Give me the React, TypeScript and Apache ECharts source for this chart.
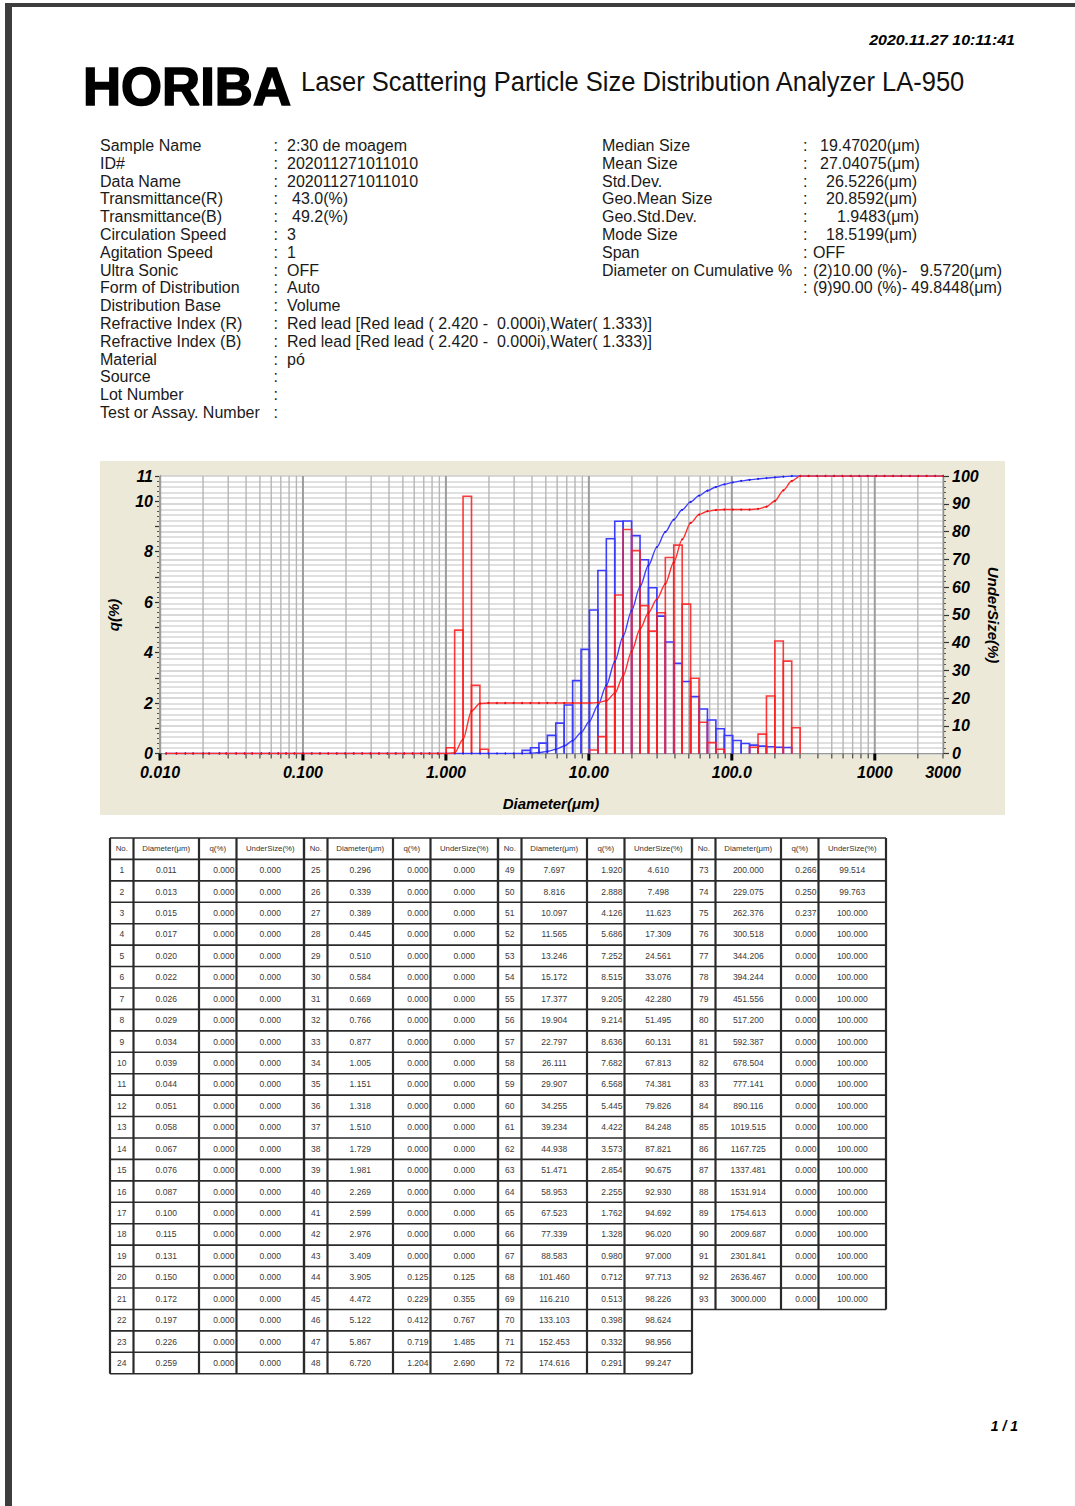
import React, { useEffect, useRef } from "react";
import * as echarts from "echarts";

const PAGE_W = 1075;
const PAGE_H = 1506;
const FONT = '"Liberation Sans", Arial, Helvetica, sans-serif';

// Channel upper diameters (μm), 93 channels
const diameters = [
  0.011, 0.013, 0.015, 0.017, 0.02, 0.022, 0.026, 0.029, 0.034, 0.039, 0.044, 0.051,
  0.058, 0.067, 0.076, 0.087, 0.1, 0.115, 0.131, 0.15, 0.172, 0.197, 0.226, 0.259,
  0.296, 0.339, 0.389, 0.445, 0.51, 0.584, 0.669, 0.766, 0.877, 1.005, 1.151, 1.318,
  1.51, 1.729, 1.981, 2.269, 2.599, 2.976, 3.409, 3.905, 4.472, 5.122, 5.867, 6.72,
  7.697, 8.816, 10.097, 11.565, 13.246, 15.172, 17.377, 19.904, 22.797, 26.111, 29.907, 34.255,
  39.234, 44.938, 51.471, 58.953, 67.523, 77.339, 88.583, 101.46, 116.21, 133.103, 152.453, 174.616,
  200.0, 229.075, 262.376, 300.518, 344.206, 394.244, 451.556, 517.2, 592.387, 678.504, 777.141, 890.116,
  1019.515, 1167.725, 1337.481, 1531.914, 1754.613, 2009.687, 2301.841, 2636.467, 3000.0,
];

// Current measurement: frequency q(%) per channel
const blueQ = [
  0, 0, 0, 0, 0, 0, 0, 0, 0, 0, 0, 0,
  0, 0, 0, 0, 0, 0, 0, 0, 0, 0, 0, 0,
  0, 0, 0, 0, 0, 0, 0, 0, 0, 0, 0, 0,
  0, 0, 0, 0, 0, 0, 0, 0.125, 0.229, 0.412, 0.719, 1.204,
  1.92, 2.888, 4.126, 5.686, 7.252, 8.515, 9.205, 9.214, 8.636, 7.682, 6.568, 5.445,
  4.422, 3.573, 2.854, 2.255, 1.762, 1.328, 0.98, 0.712, 0.513, 0.398, 0.332, 0.291,
  0.266, 0.25, 0.237, 0, 0, 0, 0, 0, 0, 0, 0, 0,
  0, 0, 0, 0, 0, 0, 0, 0, 0,
];

// Current measurement: cumulative undersize (%)
const blueUnder = [
  0, 0, 0, 0, 0, 0, 0, 0, 0, 0, 0, 0,
  0, 0, 0, 0, 0, 0, 0, 0, 0, 0, 0, 0,
  0, 0, 0, 0, 0, 0, 0, 0, 0, 0, 0, 0,
  0, 0, 0, 0, 0, 0, 0, 0.125, 0.355, 0.767, 1.485, 2.69,
  4.61, 7.498, 11.623, 17.309, 24.561, 33.076, 42.28, 51.495, 60.131, 67.813, 74.381, 79.826,
  84.248, 87.821, 90.675, 92.93, 94.692, 96.02, 97.0, 97.713, 98.226, 98.624, 98.956, 99.247,
  99.514, 99.763, 100, 100, 100, 100, 100, 100, 100, 100, 100, 100,
  100, 100, 100, 100, 100, 100, 100, 100, 100,
];

// Overlaid measurement: frequency q(%) per channel
const redQ = [
  0, 0, 0, 0, 0, 0, 0, 0, 0, 0, 0, 0,
  0, 0, 0, 0, 0, 0, 0, 0, 0, 0, 0, 0,
  0, 0, 0, 0, 0, 0, 0, 0, 0, 0, 0.23, 4.89,
  10.2, 2.7, 0.17, 0, 0, 0, 0, 0, 0, 0, 0, 0,
  0, 0, 0, 0.14, 0.67, 2.65, 6.28, 8.88, 8.04, 5.86, 4.85, 5.58,
  7.77, 8.26, 5.92, 2.98, 1.24, 0.43, 0.17, 0, 0, 0, 0.25, 0.77,
  2.28, 4.46, 3.66, 1.02, 0, 0, 0, 0, 0, 0, 0, 0,
  0, 0, 0, 0, 0, 0, 0, 0, 0,
];

// Overlaid measurement: cumulative undersize (%)
const redUnder = [
  0, 0, 0, 0, 0, 0, 0, 0, 0, 0, 0, 0,
  0, 0, 0, 0, 0, 0, 0, 0, 0, 0, 0, 0,
  0, 0, 0, 0, 0, 0, 0, 0, 0, 0, 0.23, 5.12,
  15.32, 18.02, 18.19, 18.19, 18.19, 18.19, 18.19, 18.19, 18.19, 18.19, 18.19, 18.19,
  18.19, 18.19, 18.19, 18.33, 19.0, 21.65, 27.93, 36.81, 44.85, 50.71, 55.56, 61.14,
  68.91, 77.17, 83.09, 86.07, 87.31, 87.74, 87.91, 87.91, 87.91, 87.91, 88.16, 88.93,
  91.0, 94.8, 98.2, 100, 100, 100, 100, 100, 100, 100, 100, 100,
  100, 100, 100, 100, 100, 100, 100, 100, 100,
];

const xTickValues = [0.01, 0.1, 1, 10, 100, 1000, 3000];
const xTickLabels = ["0.010", "0.100", "1.000", "10.00", "100.0", "1000", "3000"];

const sampleLabels = [
  "Sample Name", "ID#", "Data Name", "Transmittance(R)", "Transmittance(B)", "Circulation Speed",
  "Agitation Speed", "Ultra Sonic", "Form of Distribution", "Distribution Base",
  "Refractive Index (R)", "Refractive Index (B)", "Material", "Source", "Lot Number",
  "Test or Assay. Number",
];
const sampleValues = [
  "2:30 de moagem", "202011271011010", "202011271011010", "43.0(%)", "49.2(%)", "3", "1", "OFF",
  "Auto", "Volume", "Red lead [Red lead ( 2.420 -  0.000i),Water( 1.333)]",
  "Red lead [Red lead ( 2.420 -  0.000i),Water( 1.333)]", "pó", "", "", "",
];
const statLabels = [
  "Median Size", "Mean Size", "Std.Dev.", "Geo.Mean Size", "Geo.Std.Dev.", "Mode Size", "Span",
  "Diameter on Cumulative %", "",
];
const statValues = [
  "19.47020(μm)", "27.04075(μm)", "26.5226(μm)", "20.8592(μm)", "1.9483(μm)", "18.5199(μm)", "OFF",
  "(2)10.00 (%)-", "(9)90.00 (%)-",
];
const cumulativeDiameterValues = ["", "", "", "", "", "", "", "9.5720(μm)", "49.8448(μm)"];

const tableHeaders = ["No.", "Diameter(μm)", "q(%)", "UnderSize(%)"];

const measureCtx = (() => {
  const c = document.createElement("canvas");
  return c.getContext("2d");
})();
function textWidth(text: string, font: string) {
  if (!measureCtx) return 0;
  measureCtx.font = font;
  return measureCtx.measureText(text).width;
}

function txt(x: number, y: number, text: string, opts: any = {}) {
  const align = opts.align || "left";
  const vAlign = opts.verticalAlign || "middle";
  const style: any = {
    text,
    fill: opts.fill || "#1a1a1a",
    fontSize: opts.fontSize || 16,
    fontWeight: opts.fontWeight || "normal",
    fontStyle: opts.fontStyle || "normal",
    fontFamily: opts.fontFamily || FONT,
    align,
    textAlign: align,
    verticalAlign: vAlign,
    textVerticalAlign: vAlign,
  };
  if (opts.stroke) {
    style.stroke = opts.stroke;
    style.lineWidth = opts.lineWidth || 1;
  }
  return {
    type: "text",
    x,
    y,
    z: opts.z ?? 10,
    rotation: opts.rotation || 0,
    scaleX: opts.scaleX || 1,
    silent: true,
    style,
  };
}

function buildGraphic() {
  const els: any[] = [];

  // page frame
  els.push({ type: "rect", z: 20, silent: true, shape: { x: 5, y: 3, width: 1070, height: 4 }, style: { fill: "#3d3d3d" } });
  els.push({ type: "rect", z: 20, silent: true, shape: { x: 5, y: 3, width: 7, height: PAGE_H - 3 }, style: { fill: "#3d3d3d" } });

  // header
  const dateFont = `italic bold 15px ${FONT}`;
  const dateText = "2020.11.27 10:11:41";
  const dw = textWidth(dateText, dateFont) || 139;
  els.push(txt(1015, 40, dateText, { align: "right", fontSize: 15, fontWeight: "bold", fontStyle: "italic", fill: "#000", scaleX: 146 / dw }));

  const logoFont = `bold 53px ${FONT}`;
  const lw = textWidth("HORIBA", logoFont) || 209;
  els.push(txt(83, 86, "HORIBA", { fontSize: 53, fontWeight: "bold", fill: "#000", stroke: "#000", lineWidth: 1.6, scaleX: 208 / lw }));

  const titleText = "Laser Scattering Particle Size Distribution Analyzer LA-950";
  const titleFont = `27px ${FONT}`;
  const tw = textWidth(titleText, titleFont) || 780;
  els.push(txt(301, 82, titleText, { fontSize: 27, fill: "#111", scaleX: 665 / tw }));

  // sample information block
  sampleLabels.forEach((lab, i) => {
    const y = 145.5 + i * 17.8;
    els.push(txt(100, y, lab));
    els.push(txt(273.5, y, ":"));
    if (sampleValues[i]) els.push(txt(i === 3 || i === 4 ? 292 : 287, y, sampleValues[i]));
  });

  // statistics block
  const statValueX = [820, 820, 826, 826, 837, 826, 813, 813, 813];
  const cumX = [0, 0, 0, 0, 0, 0, 0, 920, 911];
  statLabels.forEach((lab, i) => {
    const y = 145.5 + i * 17.8;
    if (lab) els.push(txt(602, y, lab));
    els.push(txt(803, y, ":"));
    els.push(txt(statValueX[i], y, statValues[i]));
    if (cumulativeDiameterValues[i]) els.push(txt(cumX[i], y, cumulativeDiameterValues[i]));
  });

  // chart panel
  els.push({ type: "rect", z: -10, silent: true, shape: { x: 100, y: 461, width: 905, height: 354 }, style: { fill: "#ECE9D8" } });
  els.push(txt(113, 615, "q(%)", { align: "center", fontSize: 15, fontWeight: "bold", fontStyle: "italic", fill: "#000", rotation: Math.PI / 2 }));
  els.push(txt(993, 615, "UnderSize(%)", { align: "center", fontSize: 15, fontWeight: "bold", fontStyle: "italic", fill: "#000", rotation: -Math.PI / 2 }));
  els.push(txt(551, 803, "Diameter(μm)", { align: "center", fontSize: 15, fontWeight: "bold", fontStyle: "italic", fill: "#000" }));

  // data table
  const groupX = [110, 304, 498, 692];
  const colOff = [0, 23.5, 89, 126.5, 194];
  const tableTop = 838;
  const headH = 21.4;
  const rowH = 21.43;
  const rowsPerGroup = [24, 24, 24, 21];
  let ch = 0;
  groupX.forEach((gx, g) => {
    const nRows = rowsPerGroup[g];
    const bottom = tableTop + headH + nRows * rowH;
    for (let r = 0; r <= nRows + 1; r++) {
      const y = r === 0 ? tableTop : tableTop + headH + (r - 1) * rowH;
      els.push({ type: "line", z: 5, silent: true, shape: { x1: gx, y1: y, x2: gx + colOff[4], y2: y }, style: { stroke: "#2a2a2a", lineWidth: 1.6 } });
    }
    colOff.forEach((o) => {
      els.push({ type: "line", z: 5, silent: true, shape: { x1: gx + o, y1: tableTop, x2: gx + o, y2: bottom }, style: { stroke: "#2a2a2a", lineWidth: 2.2 } });
    });
    tableHeaders.forEach((h, c) => {
      els.push(txt(gx + (colOff[c] + colOff[c + 1]) / 2, tableTop + headH / 2, h, { align: "center", fontSize: 7.8, fill: "#333" }));
    });
    for (let r = 0; r < nRows; r++, ch++) {
      const yc = tableTop + headH + r * rowH + rowH / 2;
      const o = { fontSize: 8.5, fill: "#3a3a3a" };
      els.push(txt(gx + (colOff[0] + colOff[1]) / 2, yc, String(ch + 1), { ...o, align: "center" }));
      els.push(txt(gx + (colOff[1] + colOff[2]) / 2, yc, diameters[ch].toFixed(3), { ...o, align: "center" }));
      els.push(txt(gx + colOff[3] - 2, yc, blueQ[ch].toFixed(3), { ...o, align: "right" }));
      els.push(txt(gx + (colOff[3] + colOff[4]) / 2, yc, blueUnder[ch].toFixed(3), { ...o, align: "center" }));
    }
  });

  els.push(txt(1018, 1426, "1 / 1", { align: "right", fontSize: 14, fontWeight: "bold", fontStyle: "italic", fill: "#000" }));
  return els;
}

// vertical grid positions: 1..9 x each decade of the log axis
function decadeGridValues() {
  const vals: number[] = [];
  [0.01, 0.1, 1, 10, 100, 1000].forEach((base) => {
    for (let m = 1; m <= 9; m++) {
      const v = Math.round(base * m * 1e6) / 1e6;
      if (v <= 3000) vals.push(v);
    }
  });
  return vals;
}

function histogramSeries(q: number[], color: string, opacity: number, z: number) {
  const data: number[][] = [];
  q.forEach((v, i) => {
    if (i > 0 && v > 0) data.push([diameters[i - 1], diameters[i], v]);
  });
  return {
    type: "custom",
    xAxisIndex: 0,
    yAxisIndex: 0,
    z,
    silent: true,
    clip: false,
    encode: { x: [0, 1], y: 2 },
    data,
    renderItem: (_p: any, api: any) => {
      const p0 = api.coord([api.value(0), 0]);
      const p1 = api.coord([api.value(1), api.value(2)]);
      return {
        type: "polyline",
        shape: { points: [[p0[0], p0[1]], [p0[0], p1[1]], [p1[0], p1[1]], [p1[0], p0[1]]] },
        style: { stroke: color, fill: "none", lineWidth: 1.6, opacity },
      };
    },
  };
}

function buildOption() {
  const axisFont = { color: "#000", fontSize: 16, fontWeight: "bold", fontStyle: "italic", fontFamily: FONT };
  return {
    animation: false,
    backgroundColor: "#ffffff",
    grid: { left: 160, top: 476, width: 783, height: 277.5, show: true, backgroundColor: "#ffffff", borderWidth: 0 },
    xAxis: {
      type: "log",
      logBase: 10,
      min: 0.01,
      max: 3000,
      axisLine: { show: true, lineStyle: { color: "#9a9a9a", width: 1 } },
      axisTick: { show: false },
      axisLabel: { show: false },
      splitLine: { show: false },
    },
    yAxis: [
      {
        type: "value",
        min: 0,
        max: 11,
        interval: 1,
        position: "left",
        axisLine: { show: true, lineStyle: { color: "#333", width: 1.2 } },
        axisTick: { show: true, length: 5, lineStyle: { color: "#333", width: 1.2 } },
        minorTick: { show: true, splitNumber: 5, length: 3, lineStyle: { color: "#555" } },
        axisLabel: { ...axisFont, margin: 7, formatter: (v: number) => (v % 2 === 0 || v === 11 ? String(v) : "") },
        splitLine: { show: false },
      },
      {
        type: "value",
        min: 0,
        max: 100,
        interval: 10,
        position: "right",
        axisLine: { show: true, lineStyle: { color: "#333", width: 1.2 } },
        axisTick: { show: true, length: 6, lineStyle: { color: "#333", width: 1.2 } },
        minorTick: { show: true, splitNumber: 5, length: 3, lineStyle: { color: "#555" } },
        axisLabel: { ...axisFont, margin: 9 },
        splitLine: { show: true, lineStyle: { color: "#cccccc", width: 1.6 } },
        minorSplitLine: { show: true, lineStyle: { color: "#d6d6d6", width: 1.6 } },
      },
    ],
    graphic: { elements: buildGraphic() },
    series: [
      {
        type: "custom",
        xAxisIndex: 0,
        yAxisIndex: 0,
        z: 1,
        silent: true,
        clip: false,
        encode: { x: 0, y: 1 },
        data: decadeGridValues().map((v) => [v, 0]),
        renderItem: (_p: any, api: any) => {
          const v = api.value(0);
          const top = api.coord([v, 11]);
          const bot = api.coord([v, 0]);
          const lg = Math.log10(v);
          const decade = Math.abs(lg - Math.round(lg)) < 1e-6;
          return {
            type: "group",
            children: [
              { type: "line", shape: { x1: bot[0], y1: top[1], x2: bot[0], y2: bot[1] }, style: { stroke: decade ? "#9c9c9c" : "#b6b6b6", lineWidth: decade ? 2 : 1.4 } },
              { type: "line", shape: { x1: bot[0], y1: bot[1], x2: bot[0], y2: bot[1] + (decade ? 7 : 5) }, style: { stroke: decade ? "#000" : "#555", lineWidth: decade ? 3 : 1.3 } },
            ],
          };
        },
      },
      {
        type: "custom",
        xAxisIndex: 0,
        yAxisIndex: 0,
        z: 1,
        silent: true,
        clip: false,
        encode: { x: 0, y: 1 },
        data: xTickValues.map((v) => [v, 0]),
        renderItem: (p: any, api: any) => {
          const pt = api.coord([api.value(0), 0]);
          return {
            type: "text",
            x: pt[0],
            y: pt[1] + 19,
            style: {
              text: xTickLabels[p.dataIndex],
              fill: "#000",
              fontSize: 16,
              fontWeight: "bold",
              fontStyle: "italic",
              fontFamily: FONT,
              align: "center",
              textAlign: "center",
              verticalAlign: "middle",
              textVerticalAlign: "middle",
            },
          };
        },
      },
      histogramSeries(blueQ, "#3c3cff", 1, 3),
      histogramSeries(redQ, "#ff1e1e", 0.88, 4),
      {
        type: "line",
        xAxisIndex: 0,
        yAxisIndex: 1,
        z: 5,
        silent: true,
        data: diameters.map((d, i) => [d, blueUnder[i]]),
        smooth: 0.3,
        smoothMonotone: "x",
        symbol: "circle",
        symbolSize: 2,
        showSymbol: true,
        lineStyle: { color: "#4040ff", width: 1.4 },
        itemStyle: { color: "#2020e0" },
      },
      {
        type: "line",
        xAxisIndex: 0,
        yAxisIndex: 1,
        z: 6,
        silent: true,
        data: diameters.map((d, i) => [d, redUnder[i]]),
        smooth: 0.3,
        smoothMonotone: "x",
        symbol: "circle",
        symbolSize: 2,
        showSymbol: true,
        lineStyle: { color: "#ff3030", width: 1.4 },
        itemStyle: { color: "#e01010" },
      },
    ],
  };
}

export default function App() {
  const ref = useRef<HTMLDivElement>(null);
  useEffect(() => {
    document.body.style.margin = "0";
    if (!ref.current) return;
    const chart = echarts.init(ref.current, null, { renderer: "svg", width: PAGE_W, height: PAGE_H });
    chart.setOption(buildOption() as any);
    return () => chart.dispose();
  }, []);
  return (
    <div
      ref={ref}
      style={{ position: "absolute", left: 0, top: 0, width: PAGE_W, height: PAGE_H, background: "#fff" }}
    />
  );
}
